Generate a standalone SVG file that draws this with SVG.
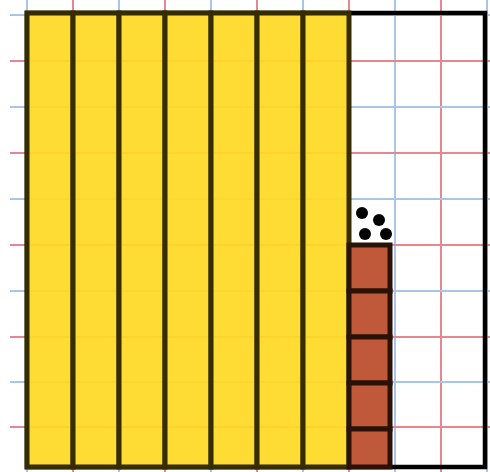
<svg xmlns="http://www.w3.org/2000/svg" width="490" height="472" viewBox="0 0 490 472">
<style>
.gb{stroke:#a9c6e6;stroke-width:2}
.gr{stroke:#e8868f;stroke-width:2}
.bar{fill:#ffd924;fill-opacity:0.93;stroke:#352c00;stroke-width:5}
.sq{fill:#c0583a;stroke:#2b1208;stroke-width:5}
.dot{fill:#000}
</style>
<rect width="490" height="472" fill="#fff"/>
<g id="grid">
<line class="gb" x1="27" y1="0" x2="27" y2="472"/>
<line class="gr" x1="73" y1="0" x2="73" y2="472"/>
<line class="gb" x1="119" y1="0" x2="119" y2="472"/>
<line class="gr" x1="165" y1="0" x2="165" y2="472"/>
<line class="gb" x1="211" y1="0" x2="211" y2="472"/>
<line class="gr" x1="257" y1="0" x2="257" y2="472"/>
<line class="gb" x1="303" y1="0" x2="303" y2="472"/>
<line class="gr" x1="349" y1="0" x2="349" y2="472"/>
<line class="gb" x1="395" y1="0" x2="395" y2="472"/>
<line class="gr" x1="441" y1="0" x2="441" y2="472"/>
<line class="gb" x1="487" y1="0" x2="487" y2="472"/>
<line class="gb" x1="10" y1="15" x2="490" y2="15"/>
<line class="gr" x1="10" y1="61" x2="490" y2="61"/>
<line class="gb" x1="10" y1="107" x2="490" y2="107"/>
<line class="gr" x1="10" y1="153" x2="490" y2="153"/>
<line class="gb" x1="10" y1="199" x2="490" y2="199"/>
<line class="gr" x1="10" y1="245" x2="490" y2="245"/>
<line class="gb" x1="10" y1="291" x2="490" y2="291"/>
<line class="gr" x1="10" y1="337" x2="490" y2="337"/>
<line class="gb" x1="10" y1="382" x2="490" y2="382"/>
<line class="gr" x1="10" y1="427" x2="490" y2="427"/>
</g>
<g id="border">
<rect x="27" y="13" width="458" height="454" fill="none" stroke="#000" stroke-width="4.5"/>
</g>
<g id="bars">
<rect class="bar" x="27" y="13" width="46" height="454"/>
<rect class="bar" x="73" y="13" width="46" height="454"/>
<rect class="bar" x="119" y="13" width="46" height="454"/>
<rect class="bar" x="165" y="13" width="46" height="454"/>
<rect class="bar" x="211" y="13" width="46" height="454"/>
<rect class="bar" x="257" y="13" width="46" height="454"/>
<rect class="bar" x="303" y="13" width="46" height="454"/>
</g>
<g id="squares">
<rect class="sq" x="349" y="245" width="41" height="46"/>
<rect class="sq" x="349" y="291" width="41" height="46"/>
<rect class="sq" x="349" y="337" width="41" height="46"/>
<rect class="sq" x="349" y="383" width="41" height="46"/>
<rect class="sq" x="349" y="429" width="41" height="38"/>
</g>
<g id="dots">
<circle class="dot" cx="362" cy="213" r="6"/>
<circle class="dot" cx="379" cy="220" r="6"/>
<circle class="dot" cx="365" cy="234" r="6"/>
<circle class="dot" cx="386" cy="234" r="6"/>
</g>
</svg>
